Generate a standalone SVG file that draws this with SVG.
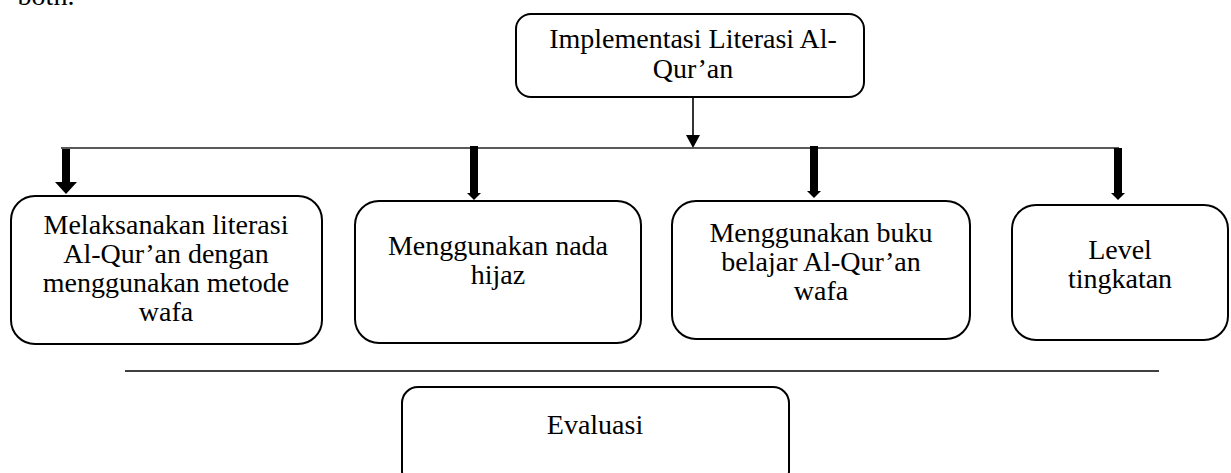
<svg xmlns="http://www.w3.org/2000/svg" width="1231" height="473" viewBox="0 0 1231 473">
<defs>
<style>
.box{fill:#fff;stroke:#000;stroke-width:2}
text{font-family:"Liberation Serif","Times New Roman",serif;font-size:28px;fill:#000;text-anchor:middle}
.thin{stroke:#000;stroke-width:1.6;fill:none}
</style>
</defs>
<text x="46" y="5">both.</text>
<g id="connectors">
<line class="thin" x1="693" y1="97" x2="693" y2="135"/>
<path d="M686,135 L700,135 L693,148 Z" fill="#000"/>
<line x1="61" y1="148" x2="1119" y2="148" stroke="#222" stroke-width="1.6"/>
<rect x="62" y="149" width="8" height="34" fill="#000"/>
<path d="M55,182 L77,182 L66,194 Z" fill="#000"/>
<rect x="470" y="146" width="8" height="48" fill="#000"/>
<path d="M467,193 L481,193 L474,200 Z" fill="#000"/>
<rect x="810" y="146" width="8" height="46" fill="#000"/>
<path d="M807,191 L821,191 L814,198 Z" fill="#000"/>
<rect x="1114" y="148" width="8" height="46" fill="#000"/>
<path d="M1111,193 L1125,193 L1118,200 Z" fill="#000"/>
<line x1="125" y1="371" x2="1159" y2="371" stroke="#000" stroke-width="1.4"/>
</g>
<g id="n-top">
<rect class="box" x="516" y="14" width="348" height="83" rx="15"/>
<text x="693" y="48">Implementasi Literasi Al-</text>
<text x="693" y="78">Qur’an</text>
</g>
<g id="n-1">
<rect class="box" x="11" y="196" width="311" height="148" rx="24"/>
<text x="166" y="234">Melaksanakan literasi</text>
<text x="166" y="263">Al-Qur’an dengan</text>
<text x="166" y="292">menggunakan metode</text>
<text x="166" y="321">wafa</text>
</g>
<g id="n-2">
<rect class="box" x="355" y="201" width="286" height="142" rx="24"/>
<text x="498" y="255">Menggunakan nada</text>
<text x="498" y="284">hijaz</text>
</g>
<g id="n-3">
<rect class="box" x="672" y="201" width="298" height="138" rx="24"/>
<text x="821" y="242">Menggunakan buku</text>
<text x="821" y="271">belajar Al-Qur’an</text>
<text x="821" y="300">wafa</text>
</g>
<g id="n-4">
<rect class="box" x="1012" y="205" width="216" height="135" rx="24"/>
<text x="1120" y="259">Level</text>
<text x="1120" y="288">tingkatan</text>
</g>
<g id="n-eval">
<rect class="box" x="402" y="387" width="387" height="100" rx="16"/>
<text x="595" y="434">Evaluasi</text>
</g>
</svg>
